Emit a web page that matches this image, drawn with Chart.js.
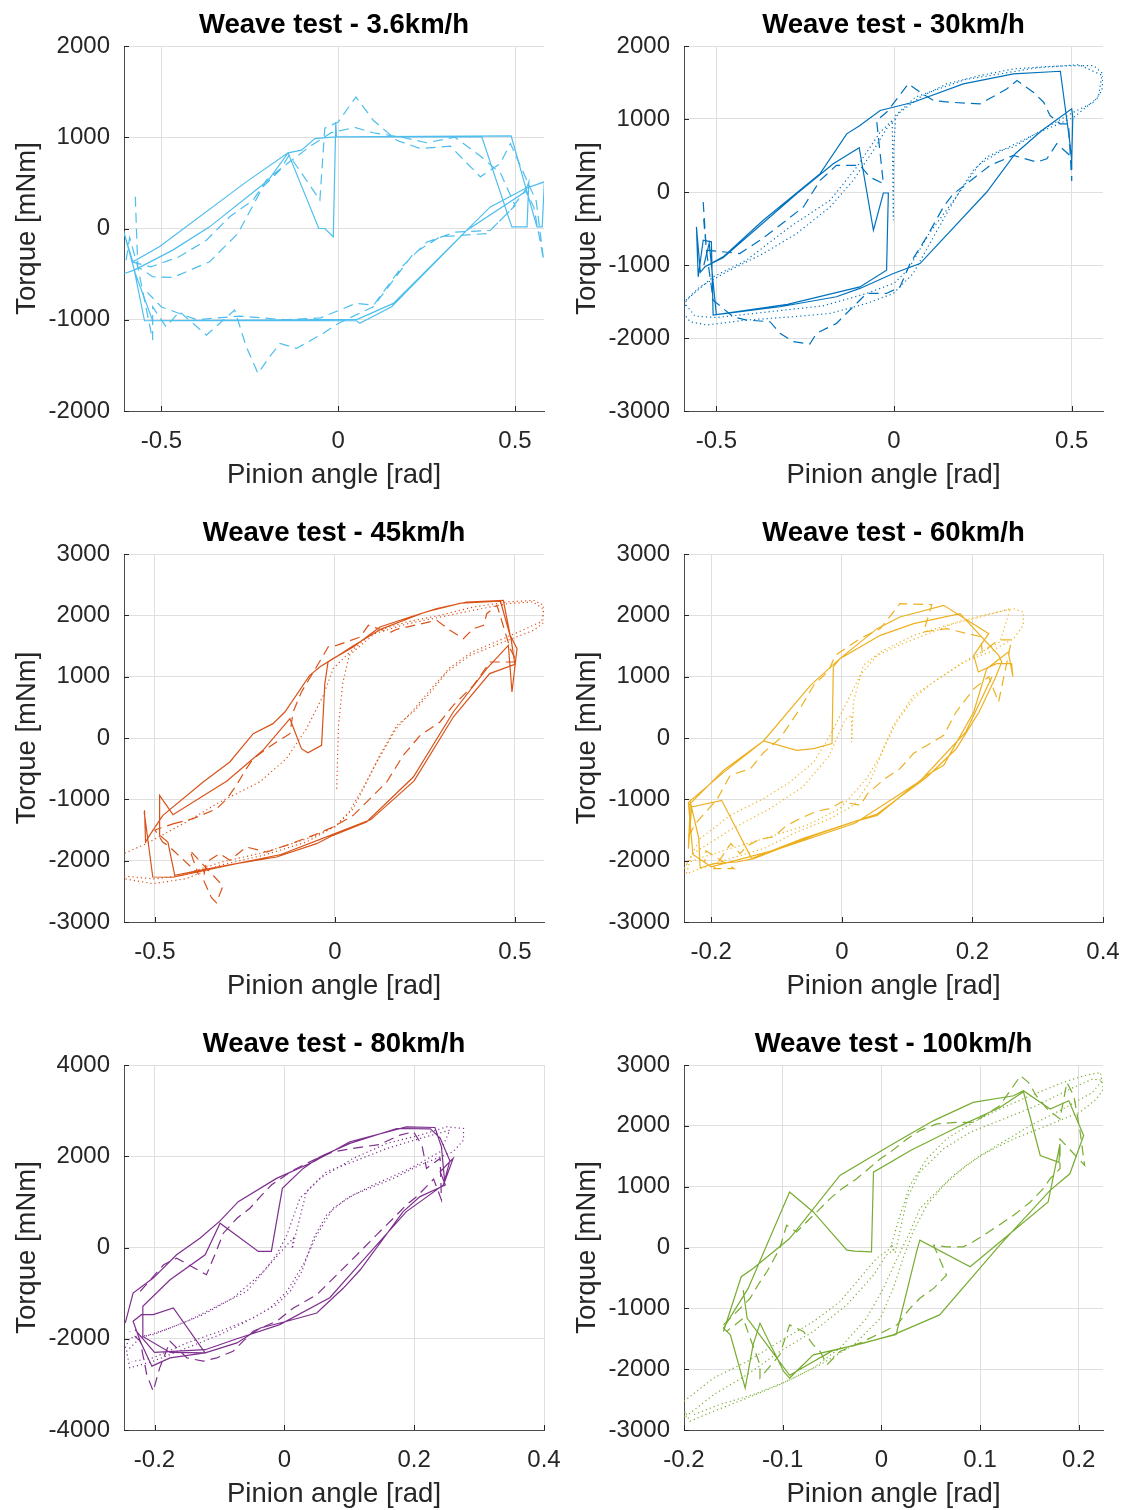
<!DOCTYPE html>
<html>
<head>
<meta charset="utf-8">
<script src="https://cdn.jsdelivr.net/npm/chart.js@4.4.1/dist/chart.umd.min.js"></script>
<style>
  body { margin: 0; background: #fff; width: 1126px; height: 1510px; position: relative; overflow: hidden; }
  canvas { position: absolute; }
</style>
</head>
<body>
<canvas id="c0"></canvas>
<canvas id="c1"></canvas>
<canvas id="c2"></canvas>
<canvas id="c3"></canvas>
<canvas id="c4"></canvas>
<canvas id="c5"></canvas>
<script>
// panel titles, colours, axis limits and ticks
const titles = ['Weave test - 3.6km/h', 'Weave test - 30km/h', 'Weave test - 45km/h',
                'Weave test - 60km/h', 'Weave test - 80km/h', 'Weave test - 100km/h'];
const colors = ['#4DBEEE', '#0072BD', '#D95319', '#EDB120', '#7E2F8E', '#77AC30'];
const xLimits = [[-0.606, 0.582], [-0.591, 0.588], [-0.586, 0.581], [-0.2417, 0.4], [-0.247, 0.4], [-0.2, 0.2246]];
const yLimits = [[-2000, 2000], [-3000, 2000], [-3000, 3000], [-3000, 3000], [-4000, 4000], [-3000, 3000]];
const xTicks = [[-0.5, 0, 0.5], [-0.5, 0, 0.5], [-0.5, 0, 0.5], [-0.2, 0, 0.2, 0.4], [-0.2, 0, 0.2, 0.4], [-0.2, -0.1, 0, 0.1, 0.2]];
const yTicks = [[-2000, -1000, 0, 1000, 2000], [-3000, -2000, -1000, 0, 1000, 2000],
                [-3000, -2000, -1000, 0, 1000, 2000, 3000], [-3000, -2000, -1000, 0, 1000, 2000, 3000],
                [-4000, -2000, 0, 2000, 4000], [-3000, -2000, -1000, 0, 1000, 2000, 3000]];

// [pinion angle rad, torque mNm]
const v36Solid = [[-0.605,-493],[-0.577,-456],[-0.548,-1011],[0.054,-996],[0.156,-821],[0.373,18],[0.430,237],[0.529,438],[0.583,511],[0.577,18],[0.562,18],[0.489,1015],[-0.009,1004],[-0.066,986],[-0.104,858],[-0.142,829],[-0.260,511],[-0.506,-201],[-0.581,-365],[-0.608,-18],[-0.574,-493],[-0.525,-1011],[0.052,-1011],[0.061,-1040],[0.151,-858],[0.364,-18],[0.529,402],[0.539,511],[0.534,18],[0.491,18],[0.406,1004],[-0.005,1004],[-0.007,1168],[-0.014,-91],[-0.038,0],[-0.055,0],[-0.142,829],[-0.198,529],[-0.364,18],[-0.468,-237],[-0.577,-456]];
const v36Dashed = [[-0.574,347],[-0.567,-420],[-0.525,-1223],[-0.525,-858],[-0.487,-1077],[-0.449,-912],[-0.373,-1168],[-0.293,-894],[-0.260,-1296],[-0.227,-1588],[-0.194,-1405],[-0.165,-1259],[-0.118,-1314],[-0.043,-1150],[0.000,-1040],[0.099,-858],[0.156,-566],[0.213,-274],[0.288,-91],[0.421,-55],[0.487,200],[0.529,420],[0.553,237],[0.581,-347],[0.560,300],[0.487,931],[0.458,712],[0.402,566],[0.317,902],[0.232,876],[0.165,967],[0.099,1186],[0.050,1442],[0.000,1168],[-0.038,1100],[-0.052,310],[-0.090,529],[-0.139,803],[-0.165,639],[-0.213,456],[-0.284,-55],[-0.364,-365],[-0.468,-537],[-0.525,-529],[-0.567,-420],[-0.590,-100],[-0.600,-350],[-0.530,-420],[-0.450,-310],[-0.373,-128],[-0.307,128],[-0.241,310],[-0.203,530],[-0.165,650],[-0.080,900],[-0.020,1050],[0.047,1107],[0.099,1049],[0.180,1000],[0.250,940],[0.330,1000],[0.400,800],[0.460,600],[0.500,250],[0.430,-20],[0.330,-40],[0.250,-150],[0.180,-420],[0.100,-840],[0.050,-820],[-0.050,-980],[-0.150,-1000],[-0.280,-960],[-0.400,-1000],[-0.500,-860],[-0.540,-700]];

const v30Solid = [[-0.532,-1025],[-0.481,-888],[-0.368,-387],[-0.208,251],[-0.133,797],[-0.096,911],[-0.039,1116],[0.054,1230],[0.195,1481],[0.336,1617],[0.468,1654],[0.494,706],[0.500,433],[0.503,1025],[0.500,1139],[0.416,843],[0.341,524],[0.261,0],[0.073,-980],[-0.002,-1116],[-0.096,-1321],[-0.162,-1435],[-0.321,-1572],[-0.509,-1686],[-0.514,-683],[-0.537,-661],[-0.551,-1162],[-0.556,-478],[-0.545,-1100],[-0.532,-1025],[-0.481,-900],[-0.274,-23],[-0.171,387],[-0.098,606],[-0.058,-524],[-0.030,-14],[-0.016,-14],[-0.021,-1071],[-0.096,-1300],[-0.300,-1540],[-0.500,-1680],[-0.520,-700],[-0.535,-1000]];
const v30Dashed = [[-0.537,-137],[-0.528,-797],[-0.434,-843],[-0.377,-661],[-0.321,-456],[-0.255,-205],[-0.208,159],[-0.162,364],[-0.096,364],[-0.068,205],[-0.030,114],[-0.049,979],[-0.021,1093],[0.012,1298],[0.040,1481],[0.073,1367],[0.111,1253],[0.158,1230],[0.242,1207],[0.317,1412],[0.346,1526],[0.392,1367],[0.421,1230],[0.439,1048],[0.468,934],[0.491,934],[0.500,150],[0.500,478],[0.458,661],[0.430,456],[0.402,410],[0.336,501],[0.270,364],[0.205,114],[0.167,-23],[0.139,-205],[0.092,-615],[0.045,-980],[0.017,-1298],[-0.021,-1390],[-0.077,-1390],[-0.115,-1572],[-0.162,-1800],[-0.218,-1936],[-0.237,-2082],[-0.284,-2050],[-0.321,-1936],[-0.349,-1777],[-0.415,-1754],[-0.453,-1709],[-0.509,-1481],[-0.528,-797],[-0.537,-296]];
const v30Dotted = [[-0.585,-1481],[-0.546,-1298],[-0.462,-1071],[-0.368,-843],[-0.274,-569],[-0.180,-205],[-0.115,159],[-0.058,570],[-0.021,866],[0.017,1093],[0.073,1298],[0.148,1481],[0.242,1595],[0.336,1686],[0.430,1718],[0.505,1731],[0.562,1731],[0.588,1617],[0.585,1390],[0.562,1230],[0.505,1093],[0.430,888],[0.383,752],[0.336,615],[0.298,570],[0.261,478],[0.223,296],[0.186,23],[0.148,-296],[0.111,-615],[0.054,-1116],[-0.002,-1390],[-0.077,-1526],[-0.180,-1663],[-0.284,-1709],[-0.415,-1754],[-0.528,-1822],[-0.574,-1777],[-0.592,-1663],[-0.585,-1481],[-0.509,-1162],[-0.415,-934],[-0.293,-478],[-0.180,-114],[-0.105,342],[-0.039,820],[-0.005,980],[-0.002,-387],[-0.001,600],[0.005,1050],[0.060,1300],[0.200,1540],[0.400,1700],[0.520,1745],[0.585,1600],[0.575,1300],[0.505,1020],[0.400,800],[0.300,560],[0.240,380],[0.170,-100],[0.100,-560],[0.040,-1060],[0.000,-1250],[-0.077,-1390],[-0.200,-1560],[-0.350,-1640],[-0.500,-1720],[-0.560,-1700],[-0.585,-1550]];

const v45Solid = [[-0.529,-1179],[-0.526,-1696],[-0.515,-1587],[-0.478,-1261],[-0.366,-717],[-0.292,-391],[-0.227,71],[-0.172,234],[-0.139,424],[-0.070,1022],[-0.042,1158],[-0.005,1294],[0.051,1484],[0.125,1810],[0.209,1973],[0.283,2109],[0.366,2217],[0.468,2245],[0.487,1674],[0.506,1457],[0.492,750],[0.482,1511],[0.422,1130],[0.329,424],[0.218,-636],[0.088,-1370],[-0.005,-1587],[-0.051,-1723],[-0.162,-1940],[-0.274,-2049],[-0.376,-2158],[-0.445,-2239],[-0.464,-1696],[-0.487,-1587],[-0.487,-935],[-0.450,-1250],[-0.300,-700],[-0.200,-200],[-0.125,315],[-0.093,-174],[-0.075,-240],[-0.037,-120],[-0.028,886],[-0.019,1239],[0.050,1500],[0.130,1780],[0.250,2050],[0.350,2200],[0.460,2230],[0.490,1600],[0.500,1200],[0.430,1050],[0.330,350],[0.220,-700],[0.100,-1330],[0.000,-1560],[-0.150,-1900],[-0.300,-2080],[-0.450,-2270],[-0.506,-2266],[-0.530,-1200]];
const v45Dashed = [[-0.450,-1400],[-0.394,-1315],[-0.329,-1155],[-0.300,-990],[-0.274,-772],[-0.246,-500],[-0.227,-337],[-0.190,-174],[-0.162,-65],[-0.125,71],[-0.116,424],[-0.093,750],[-0.032,1348],[-0.019,1484],[0.005,1511],[0.070,1646],[0.093,1837],[0.153,1720],[0.172,1772],[0.283,1918],[0.320,1755],[0.357,1620],[0.385,1783],[0.413,1837],[0.422,2027],[0.450,2163],[0.459,2000],[0.487,1457],[0.506,1239],[0.431,1239],[0.385,858],[0.329,533],[0.292,261],[0.237,43],[0.190,-283],[0.144,-717],[0.107,-935],[0.051,-1261],[-0.005,-1451],[-0.060,-1587],[-0.135,-1750],[-0.190,-1859],[-0.246,-1777],[-0.292,-1995],[-0.320,-1886],[-0.357,-2022],[-0.366,-2304],[-0.343,-2603],[-0.329,-2684],[-0.311,-2413],[-0.403,-1831],[-0.380,-2212],[-0.464,-1750],[-0.478,-1700],[-0.500,-1500],[-0.450,-1400]];
const v45Dotted = [[0.005,-826],[0.010,200],[0.022,900],[0.040,1350],[0.110,1700],[0.200,1860],[0.300,1980],[0.400,2100],[0.480,2190],[0.550,2220],[0.580,2100],[0.575,1900],[0.530,1780],[0.460,1600],[0.380,1400],[0.320,1150],[0.270,820],[0.220,470],[0.170,150],[0.120,-350],[0.080,-800],[0.040,-1200],[0.000,-1450],[-0.080,-1650],[-0.200,-1870],[-0.320,-2030],[-0.420,-2230],[-0.500,-2300],[-0.587,-2250],[-0.587,-1886],[-0.524,-1723],[-0.413,-1370],[-0.320,-1044],[-0.209,-717],[-0.135,-337],[-0.079,152],[-0.032,696],[-0.005,1130],[0.032,1348],[0.107,1728],[0.199,1891],[0.292,2000],[0.385,2136],[0.478,2217],[0.552,2245],[0.580,2163],[0.582,1891],[0.552,1755],[0.468,1565],[0.376,1348],[0.311,1076],[0.274,804],[0.218,424],[0.172,207],[0.125,-283],[0.088,-717],[0.051,-1152],[0.005,-1424],[-0.079,-1696],[-0.199,-1913],[-0.320,-2076],[-0.413,-2293],[-0.506,-2375],[-0.587,-2293]];

const v60Solid = [[-0.235,-1098],[-0.181,-527],[-0.120,-49],[-0.048,859],[-0.003,1294],[0.054,1783],[0.089,1973],[0.156,2163],[0.225,1701],[0.202,1348],[0.209,1076],[0.237,1212],[0.260,1212],[0.262,1000],[0.255,1400],[0.222,1130],[0.202,424],[0.156,-446],[0.130,-609],[0.054,-1261],[0.018,-1370],[-0.043,-1587],[-0.135,-1967],[-0.161,-2022],[-0.196,-2049],[-0.217,-2120],[-0.219,-1641],[-0.232,-1044],[-0.235,-1804],[-0.230,-1125],[-0.184,-1016],[-0.138,-1967],[-0.060,-1640],[0.054,-1240],[0.130,-640],[0.175,-180],[0.210,420],[0.235,980],[0.245,1240],[0.240,1350],[0.181,2027],[0.110,1864],[0.059,1674],[-0.003,1294],[-0.013,1158],[-0.015,-92],[-0.043,-174],[-0.069,-201],[-0.120,-49],[-0.181,-560],[-0.235,-1050],[-0.228,-1900],[-0.200,-2100],[-0.100,-1820],[0.020,-1390],[0.120,-700],[0.190,100],[0.230,1000]];
const v60Dashed = [[-0.235,-1600],[-0.222,-1370],[-0.191,-1000],[-0.171,-609],[-0.140,-500],[-0.120,-240],[-0.095,-10],[-0.064,478],[-0.043,860],[-0.020,1100],[-0.010,1348],[0.028,1620],[0.059,1783],[0.089,2190],[0.138,2174],[0.125,1728],[0.161,1783],[0.213,1650],[0.215,1400],[0.240,1600],[0.260,1600],[0.240,585],[0.225,1000],[0.202,800],[0.175,424],[0.156,43],[0.110,-250],[0.089,-500],[0.064,-680],[0.040,-900],[0.028,-1098],[0.000,-1040],[-0.018,-1150],[-0.040,-1200],[-0.064,-1315],[-0.085,-1430],[-0.105,-1614],[-0.125,-1650],[-0.145,-1760],[-0.156,-1886],[-0.170,-1720],[-0.196,-2130],[-0.165,-2130],[-0.208,-1840],[-0.210,-2030]];
const v60Dotted = [[-0.241,-2130],[-0.217,-1641],[-0.171,-1261],[-0.120,-989],[-0.079,-717],[-0.043,-391],[-0.018,43],[0.008,587],[0.028,1022],[0.054,1348],[0.099,1565],[0.140,1728],[0.176,1891],[0.227,2027],[0.263,2109],[0.278,2054],[0.278,1837],[0.263,1620],[0.227,1402],[0.186,1239],[0.140,913],[0.110,641],[0.084,261],[0.064,-174],[0.043,-717],[0.018,-1098],[-0.018,-1315],[-0.069,-1533],[-0.120,-1804],[-0.171,-1967],[-0.217,-2130],[-0.238,-2212],[-0.230,-1900],[-0.171,-1500],[-0.110,-1150],[-0.060,-800],[-0.020,-300],[0.005,300],[0.015,370],[0.015,-70],[0.018,600],[0.033,1185],[0.059,1402],[0.110,1674],[0.161,1837],[0.212,1973],[0.258,2109],[0.242,1565],[0.196,1294],[0.145,940],[0.110,696],[0.079,207],[0.059,-283],[0.038,-663],[-0.003,-1152],[-0.054,-1424],[-0.120,-1641],[-0.171,-1804],[-0.215,-1950],[-0.240,-2050]];

const v80Solid = [[-0.245,-1654],[-0.233,-998],[-0.202,-670],[-0.166,-160],[-0.130,204],[-0.099,583],[-0.071,1005],[-0.012,1515],[0.045,1880],[0.101,2317],[0.188,2645],[0.232,2630],[0.242,2208],[0.247,1443],[0.260,1953],[0.240,1661],[0.248,1370],[0.209,1115],[0.183,787],[0.117,-488],[0.091,-889],[0.050,-1435],[0.004,-1617],[-0.037,-1763],[-0.073,-2091],[-0.122,-2310],[-0.176,-2419],[-0.204,-2601],[-0.222,-2055],[-0.233,-1617],[-0.220,-1472],[-0.202,-1472],[-0.171,-1326],[-0.122,-2310],[-0.176,-2300],[-0.218,-1950],[-0.218,-1290],[-0.176,-707],[-0.122,-160],[-0.099,532],[-0.040,-87],[-0.020,-87],[-0.003,1297],[0.029,1734],[0.055,1989],[0.101,2281],[0.173,2608],[0.225,2600],[0.240,2400],[0.255,1900],[0.245,1370],[0.188,787],[0.120,-300],[0.070,-1100],[-0.007,-1690],[-0.073,-2000],[-0.122,-2240],[-0.200,-2300],[-0.230,-1800]];
const v80Dashed = [[-0.222,-962],[-0.186,-379],[-0.166,-233],[-0.120,-597],[-0.107,-160],[-0.094,313],[-0.073,641],[-0.053,860],[-0.037,1115],[-0.020,1370],[0.014,1698],[0.045,1916],[0.075,2098],[0.122,2208],[0.147,2259],[0.178,2463],[0.199,2536],[0.212,2244],[0.219,1734],[0.240,1953],[0.242,1042],[0.230,1500],[0.204,1115],[0.188,933],[0.168,641],[0.142,277],[0.117,-87],[0.086,-525],[0.050,-1035],[0.014,-1326],[-0.012,-1617],[-0.048,-1836],[-0.079,-2273],[-0.104,-2419],[-0.125,-2492],[-0.150,-2419],[-0.176,-2055],[-0.192,-2638],[-0.202,-3148],[-0.212,-2783],[-0.222,-2055],[-0.238,-1836]];
const v80Dotted = [[-0.245,-2200],[-0.238,-1982],[-0.202,-1909],[-0.150,-1617],[-0.099,-1253],[-0.058,-962],[-0.032,-525],[-0.012,-160],[0.004,277],[0.024,1078],[0.055,1515],[0.106,1953],[0.158,2281],[0.209,2463],[0.250,2645],[0.276,2608],[0.276,2353],[0.260,2098],[0.209,1807],[0.168,1515],[0.106,1151],[0.075,860],[0.050,277],[0.029,-379],[0.004,-962],[-0.022,-1326],[-0.058,-1617],[-0.099,-1909],[-0.150,-2200],[-0.202,-2492],[-0.238,-2638],[-0.243,-2273],[-0.222,-1982],[-0.176,-1763],[-0.125,-1472],[-0.079,-1107],[-0.032,-525],[0.004,58],[0.014,204],[0.012,-30],[0.034,1224],[0.065,1661],[0.106,1880],[0.158,2171],[0.209,2390],[0.255,2572],[0.240,2098],[0.194,1734],[0.137,1370],[0.096,1078],[0.065,714],[0.045,204],[0.027,-525],[0.009,-962],[-0.012,-1253],[-0.048,-1545],[-0.099,-1836],[-0.150,-2091],[-0.202,-2419],[-0.235,-2500]];

const v100Solid = [[-0.160,-1381],[-0.142,-480],[-0.130,-344],[-0.093,147],[-0.042,1185],[0.012,1704],[0.053,2086],[0.093,2386],[0.134,2495],[0.144,2577],[0.171,2277],[0.190,2413],[0.205,1840],[0.191,1212],[0.171,939],[0.120,38],[0.059,-1108],[0.012,-1436],[-0.018,-1572],[-0.069,-1764],[-0.093,-2146],[-0.099,-2037],[-0.123,-1245],[-0.130,-1600],[-0.138,-2310],[-0.153,-1436],[-0.160,-1327],[-0.135,-672],[-0.093,912],[-0.069,584],[-0.035,-44],[-0.027,-60],[-0.010,-71],[-0.008,1239],[0.030,1600],[0.080,2000],[0.120,2300],[0.144,2560],[0.161,1512],[0.180,1400],[0.181,1700],[0.169,748],[0.090,-317],[0.039,120],[0.036,-50],[0.015,-1430],[-0.050,-1700],[-0.093,-2100],[-0.125,-1400],[-0.136,-1163],[-0.140,-700]];
const v100Dashed = [[-0.160,-1272],[-0.143,-999],[-0.133,-835],[-0.125,-617],[-0.116,-399],[-0.103,-16],[-0.096,366],[-0.086,257],[-0.062,639],[-0.052,803],[-0.040,966],[-0.025,1130],[-0.001,1458],[0.009,1567],[0.026,1785],[0.039,1922],[0.056,2031],[0.076,2058],[0.093,2058],[0.107,2195],[0.120,2331],[0.141,2823],[0.149,2714],[0.157,2495],[0.168,2277],[0.181,2113],[0.188,2714],[0.195,2495],[0.201,1949],[0.206,1349],[0.181,1785],[0.181,1294],[0.171,1130],[0.164,966],[0.151,748],[0.134,530],[0.114,311],[0.093,93],[0.083,11],[0.066,11],[0.053,38],[0.066,-453],[0.053,-672],[0.039,-835],[0.029,-999],[0.016,-1272],[-0.001,-1409],[-0.022,-1572],[-0.042,-1709],[-0.055,-1927],[-0.062,-1709],[-0.069,-1600],[-0.079,-1381],[-0.093,-1272],[-0.103,-1764],[-0.123,-2146],[-0.123,-1927],[-0.133,-1490],[-0.140,-1163],[-0.157,-1381]];
const v100Dotted = [[-0.200,-2528],[-0.170,-2146],[-0.136,-1873],[-0.103,-1545],[-0.069,-1218],[-0.042,-890],[-0.022,-508],[-0.005,-180],[0.009,-16],[0.019,530],[0.029,1021],[0.046,1458],[0.066,1785],[0.093,2058],[0.120,2277],[0.151,2495],[0.184,2714],[0.205,2823],[0.222,2877],[0.225,2604],[0.218,2441],[0.201,2222],[0.168,2004],[0.134,1785],[0.100,1512],[0.073,1185],[0.056,912],[0.039,639],[0.029,257],[0.016,-180],[0.002,-672],[-0.015,-1163],[-0.042,-1654],[-0.069,-1982],[-0.103,-2255],[-0.136,-2473],[-0.170,-2692],[-0.194,-2856],[-0.199,-2692],[-0.200,-2801],[-0.170,-2419],[-0.136,-2091],[-0.103,-1709],[-0.069,-1381],[-0.035,-945],[-0.008,-453],[0.005,-126],[0.012,-40],[0.010,60],[0.014,-90],[0.026,803],[0.039,1240],[0.063,1622],[0.090,1895],[0.124,2113],[0.157,2331],[0.191,2604],[0.214,2768],[0.224,2750],[0.214,2550],[0.184,2277],[0.151,2004],[0.117,1676],[0.086,1349],[0.063,1021],[0.046,693],[0.032,257],[0.022,-180],[0.012,-672],[-0.001,-1163],[-0.028,-1600],[-0.062,-1927],[-0.096,-2200],[-0.130,-2419],[-0.164,-2583],[-0.190,-2746]];

const seriesByPanel = [
  [v36Solid, v36Dashed, null],
  [v30Solid, v30Dashed, v30Dotted],
  [v45Solid, v45Dashed, v45Dotted],
  [v60Solid, v60Dashed, v60Dotted],
  [v80Solid, v80Dashed, v80Dotted],
  [v100Solid, v100Dashed, v100Dotted]
];
const lineStyles = [[], [10, 6], [1.2, 3]];

// canvas placement
const boxes = [
  {left: 0, top: 0, w: 563, h: 491, right: 19},
  {left: 560, top: 0, w: 566, h: 491, right: 23},
  {left: 0, top: 508, w: 563, h: 494, right: 19},
  {left: 560, top: 508, w: 566, h: 494, right: 23},
  {left: 0, top: 1019, w: 563, h: 491, right: 19},
  {left: 560, top: 1019, w: 566, h: 491, right: 23}
];

const FONT = "'Liberation Sans', Arial, Helvetica, sans-serif";
const TEXT = '#262626';
const GRID = '#dfdfdf';
Chart.defaults.font.family = FONT;

// MATLAB style inward tick marks on the left and bottom axes
const innerTicks = {
  id: 'innerTicks',
  afterDraw(chart) {
    const {ctx, chartArea: a, scales: {x, y}} = chart;
    ctx.save();
    ctx.strokeStyle = TEXT;
    ctx.lineWidth = 1;
    ctx.beginPath();
    x.ticks.forEach(t => {
      const px = Math.round(x.getPixelForValue(t.value)) + 0.5;
      ctx.moveTo(px, a.bottom);
      ctx.lineTo(px, a.bottom - 5);
    });
    y.ticks.forEach(t => {
      const py = Math.round(y.getPixelForValue(t.value)) + 0.5;
      ctx.moveTo(a.left, py);
      ctx.lineTo(a.left + 5, py);
    });
    ctx.stroke();
    ctx.restore();
  }
};

titles.forEach((title, i) => {
  const b = boxes[i];
  const cv = document.getElementById('c' + i);
  cv.width = b.w;
  cv.height = b.h;
  cv.style.left = b.left + 'px';
  cv.style.top = b.top + 'px';

  const datasets = [];
  seriesByPanel[i].forEach((pts, k) => {
    if (!pts) return;
    datasets.push({
      data: pts.map(p => ({x: p[0], y: p[1]})),
      showLine: true,
      borderColor: colors[i],
      borderWidth: 1.2,
      borderDash: lineStyles[k],
      pointRadius: 0,
      tension: 0,
      fill: false
    });
  });

  new Chart(cv, {
    type: 'scatter',
    data: {datasets},
    options: {
      responsive: false,
      animation: false,
      events: [],
      layout: {padding: {left: 0, top: 0, right: b.right, bottom: 0}},
      plugins: {
        legend: {display: false},
        tooltip: {enabled: false},
        title: {
          display: true, text: title, fullSize: false, color: '#000',
          font: {size: 27.5, weight: 'bold', lineHeight: 1.2},
          padding: {top: 8.5, bottom: 4.5}
        }
      },
      scales: {
        x: {
          type: 'linear', bounds: 'data',
          min: xLimits[i][0], max: xLimits[i][1],
          afterBuildTicks: s => { s.ticks = xTicks[i].map(v => ({value: v})); },
          afterFit: s => { s.height = 80; s.paddingLeft = 0; s.paddingRight = 0; },
          grid: {color: GRID, drawTicks: false},
          border: {display: true, color: '#4d4d4d', width: 1},
          ticks: {
            padding: 15.6, color: TEXT, font: {size: 24, lineHeight: 1.2},
            autoSkip: false, maxRotation: 0, minRotation: 0,
            callback: v => String(v)
          },
          title: {
            display: true, text: 'Pinion angle [rad]', color: TEXT,
            font: {size: 27.5, lineHeight: 1}, padding: {top: 0, bottom: 1.75}
          }
        },
        y: {
          type: 'linear', bounds: 'data',
          min: yLimits[i][0], max: yLimits[i][1],
          afterBuildTicks: s => { s.ticks = yTicks[i].map(v => ({value: v})); },
          afterFit: s => { s.width = 124; s.paddingTop = 0; s.paddingBottom = 0; },
          grid: {color: GRID, drawTicks: false},
          border: {display: true, color: '#4d4d4d', width: 1},
          ticks: {
            padding: 14, color: TEXT, font: {size: 24},
            autoSkip: false, callback: v => String(v)
          },
          title: {
            display: true, text: 'Torque [mNm]', color: TEXT,
            font: {size: 27.5, lineHeight: 1}, padding: {top: 13.75, bottom: 0}
          }
        }
      }
    },
    plugins: [innerTicks]
  });
});
</script>
</body>
</html>
